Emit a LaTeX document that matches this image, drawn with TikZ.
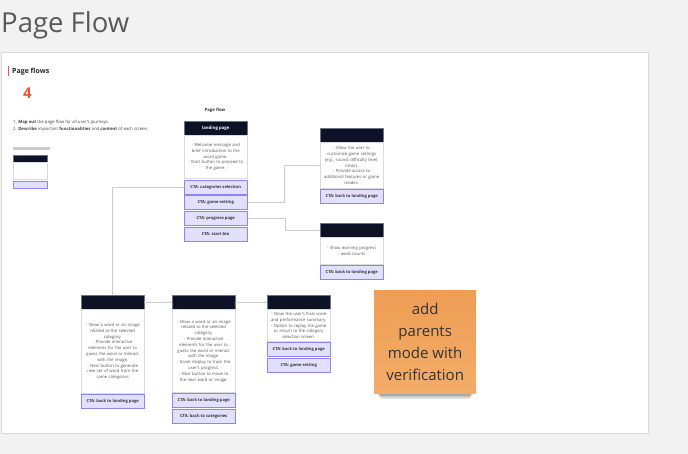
\documentclass[tikz,border=0pt]{standalone}
\usepackage{fontspec}
\setmainfont{Open Sans}
\usetikzlibrary{arrows.meta,shadows}
\definecolor{bgc}{HTML}{F2F2F2}
\definecolor{navy}{HTML}{0D1226}
\definecolor{navyb}{HTML}{6E7385}
\definecolor{ctaf}{HTML}{E2E0FF}
\definecolor{ctab}{HTML}{8F85F2}
\definecolor{bodyt}{HTML}{555555}
\definecolor{linec}{HTML}{CCCCCC}
\definecolor{redo}{HTML}{E8553A}
\definecolor{sticky1}{HTML}{EE9D55}
\definecolor{sticky2}{HTML}{F3AD68}
\tikzset{
  x=1pt,y=-1pt,
  hdr/.style={fill=navy,draw=navyb,line width=0.4pt,text=white,font=\bfseries\fontsize{4.3}{5}\selectfont,minimum width=63pt,minimum height=14pt,inner sep=0pt},
  bodybox/.style={fill=white,draw=linec!70,line width=0.4pt,text=bodyt,font=\fontsize{4.2}{5.8}\selectfont,align=center,text width=60pt,minimum width=63pt,inner sep=0pt},
  cta/.style={fill=ctaf,draw=ctab,line width=0.6pt,text=black!80,font=\bfseries\fontsize{4.1}{5}\selectfont,minimum width=63pt,minimum height=14pt,inner sep=0pt},
  conn/.style={draw=linec,line width=0.6pt,-{Stealth[length=2pt,width=2pt]}},
}
\begin{document}
\begin{tikzpicture}
\useasboundingbox (0,0) rectangle (688,454);
\fill[bgc] (0,0) rectangle (688,454);
\node[anchor=base west,text=black!65,font=\fontsize{27.5}{30}\selectfont,inner sep=0pt] (title) at (1,32.5) {Page Flow};
% panel
\fill[black!8] (1.5,52.5) rectangle (649,435);
\node[draw=black!15,fill=white,line width=0.5pt,minimum width=647pt,minimum height=381pt,anchor=north west,inner sep=0pt] (panel) at (1,52) {};
% heading
\fill[red!70!white] (7.5,66) rectangle (8.8,76);
\node[anchor=base west,font=\bfseries\fontsize{7}{8}\selectfont,text=black!85,inner sep=0pt] (pf) at (12,74) {Page flows};
\node[anchor=base west,font=\bfseries\fontsize{15}{18}\selectfont,text=redo,inner sep=0pt] (num) at (23,98.5) {4};
\node[anchor=north west,font=\fontsize{4.3}{7}\selectfont,text=black!75,align=left,inner sep=0pt] (instr) at (13,120.5)
  {1. \textbf{Map out} the page flow for all user's journeys.\\2. \textbf{Describe} important \textbf{functionalities} and \textbf{content} of each screen.};
% legend
\fill[black!20] (13,147) rectangle (50,150);
\node[fill=navy,draw=navyb,line width=0.4pt,minimum width=34pt,minimum height=7pt,inner sep=0pt,anchor=north west] (lg1) at (13,155) {};
\node[fill=white,draw=linec!70,line width=0.4pt,minimum width=34pt,minimum height=17pt,inner sep=0pt,anchor=north] (lg2) at (lg1.south) {};
\node[fill=ctaf,draw=ctab,line width=0.5pt,minimum width=34pt,minimum height=7pt,inner sep=0pt,anchor=north] (lg3) at ([yshift=-1.5pt]lg2.south) {};
% landing page
\node[font=\bfseries\fontsize{4.3}{5}\selectfont,text=black!80,inner sep=0pt] (pflab) at (215,110) {Page flow};
\node[hdr,anchor=north west] (lp) at (184,121) {landing page};
\node[bodybox,minimum height=43pt,anchor=north] (lpb) at (lp.south) {- Welcome message and\\brief introduction to the\\word game.\\- Start button to proceed to\\the game.};
\node[cta,anchor=north] (c1) at ([yshift=-1pt]lpb.south) {CTA: categories selection};
\node[cta,anchor=north] (c2) at ([yshift=-1pt]c1.south) {CTA: game setting};
\node[cta,anchor=north] (c3) at ([yshift=-1pt]c2.south) {CTA: progress page};
\node[cta,anchor=north] (c4) at ([yshift=-1pt]c3.south) {CTA: start btn};
% settings
\node[hdr,anchor=north west] (gs) at (320,128) {};
\node[bodybox,minimum height=46pt,anchor=north] (gsb) at (gs.south) {- Allow the user to\\customize game settings\\(e.g., sound, difficulty level,\\timer).\\- Provide access to\\additional features or game\\modes.};
\node[cta,anchor=north] (gsc) at ([yshift=-0.5pt]gsb.south) {CTA: back to landing page};
% progress
\node[hdr,anchor=north west] (pr) at (320,223) {};
\node[bodybox,minimum height=27pt,anchor=north] (prb) at (pr.south) {- Show learning progress\\- word counts};
\node[cta,anchor=north] (prc) at ([yshift=-0.5pt]prb.south) {CTA: back to landing page};
% game 1
\node[hdr,anchor=north west] (g1) at (81,295) {};
\node[bodybox,minimum height=84pt,anchor=north] (g1b) at (g1.south) {- Show a word or an image\\related to the selected\\category.\\- Provide interactive\\elements for the user to\\guess the word or interact\\with the image.\\- Next button to generate\\new set of word from the\\same categories};
\node[cta,anchor=north] (g1c) at ([yshift=-0.5pt]g1b.south) {CTA: back to landing page};
% game 2
\node[hdr,anchor=north west] (g2) at (172,295) {};
\node[bodybox,minimum height=83pt,anchor=north] (g2b) at (g2.south) {- Show a word or an image\\related to the selected\\category.\\- Provide interactive\\elements for the user to\\guess the word or interact\\with the image.\\- Score display to track the\\user's progress.\\- Next button to move to\\the next word or image.};
\node[cta,anchor=north] (g2c) at ([yshift=-0.5pt]g2b.south) {CTA: back to landing page};
\node[cta,anchor=north] (g2d) at ([yshift=-1pt]g2c.south) {CTA: back to categories};
% result
\node[hdr,anchor=north west] (rs) at (267,295) {};
\node[bodybox,minimum height=32pt,anchor=north] (rsb) at (rs.south) {- Show the user's final score\\and performance summary.\\- Option to replay the game\\or return to the category\\selection screen.};
\node[cta,anchor=north] (rsc) at ([yshift=-0.5pt]rsb.south) {CTA: back to landing page};
\node[cta,anchor=north] (rsd) at ([yshift=-1pt]rsc.south) {CTA: game setting};
% connectors
\draw[conn] (c1.west) -| (g1.north);
\draw[conn] (c2.east) -- ++(37,0) |- (gsb.west);
\draw[conn] (c3.east) -- ++(38,0) |- (pr.west);
\draw[conn] (g1.east) -- (g2.west);
\draw[conn] (g2.east) -- (rs.west);
% sticky note
\foreach \i in {0,...,7} {
  \fill[black,opacity=0.05] (377+\i*0.5,387+\i*0.7) rectangle (473-\i*0.5,395+\i*0.6);
}
\node[shade,top color=sticky1,bottom color=sticky2,minimum width=102pt,minimum height=103pt,anchor=north west,inner sep=0pt] (st) at (374,290) {};
\node[align=center,font=\fontsize{15}{22}\selectfont,text=black!80,inner sep=0pt] (stt) at (st.center) {add\\parents\\mode with\\verification};
\end{tikzpicture}
\end{document}
